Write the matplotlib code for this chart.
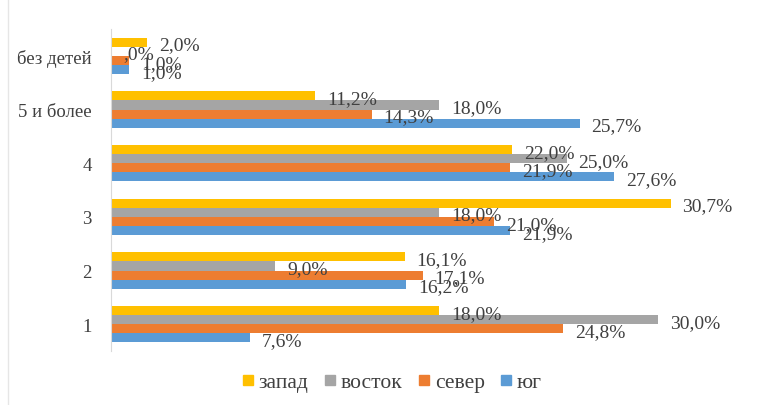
import numpy as np
import matplotlib.pyplot as plt
from matplotlib.lines import Line2D

# Данные (снизу вверх)
categories = ['1', '2', '3', '4', '5 и более', 'без детей']
series_names = ['запад', 'восток', 'север', 'юг']
zapad = [18.0, 16.1, 30.7, 22.0, 11.2, 2.0]
vostok = [30.0, 9.0, 18.0, 25.0, 18.0, 0.0]
sever = [24.8, 17.1, 21.0, 21.9, 14.3, 1.0]
yug = [7.6, 16.2, 21.9, 27.6, 25.7, 1.0]

colors = ['#FFC000', '#A5A5A5', '#ED7D31', '#5B9BD5']
text_color = '#404040'

plt.rcParams['font.family'] = ['Liberation Serif', 'DejaVu Serif']

fig = plt.figure(figsize=(7.63, 4.06), dpi=100)
ax = fig.add_axes([0.1455, 0.133, 0.8362, 0.793])

y = np.arange(len(categories))
h = 0.17
offsets = [1.5 * h, 0.5 * h, -0.5 * h, -1.5 * h]
all_values = [zapad, vostok, sever, yug]

for vals, off, col, name in zip(all_values, offsets, colors, series_names):
    bars = ax.barh(y + off, vals, height=h, color=col, label=name)
    for b, v in zip(bars, vals):
        lbl = f"{v:.1f}%".replace('.', ',')
        if v == 0:
            lbl = ',0%'
        ax.annotate(lbl, (v, b.get_y() + b.get_height() / 2),
                    xytext=(8.5, -2), textcoords='offset points',
                    va='center', ha='left', fontsize=14, color=text_color)

ax.set_xlim(0, 35)
ax.set_ylim(-0.5, 5.5)
ax.set_yticks(y)
ax.set_yticklabels(categories, fontsize=13.5, color=text_color)
ax.set_xticks([])
ax.tick_params(axis='y', length=0, pad=14)
for s in ['top', 'right', 'bottom']:
    ax.spines[s].set_visible(False)
ax.spines['left'].set_color('#d9d9d9')

# Легенда
handles = [Line2D([], [], marker='s', linestyle='', markersize=6.5,
                  markerfacecolor=c, markeredgecolor=c) for c in colors]
fig.legend(handles, series_names, loc='center', bbox_to_anchor=(0.514, 0.056),
           ncol=4, frameon=False, fontsize=15.5, handlelength=0.5,
           handletextpad=0.25, columnspacing=0.75, labelcolor=text_color)

# Рамка области диаграммы слева
fig.add_artist(Line2D([0.011, 0.011], [0.0, 1.0], color='#e6e6e6', lw=1))

fig.savefig('out.png', dpi=100)
